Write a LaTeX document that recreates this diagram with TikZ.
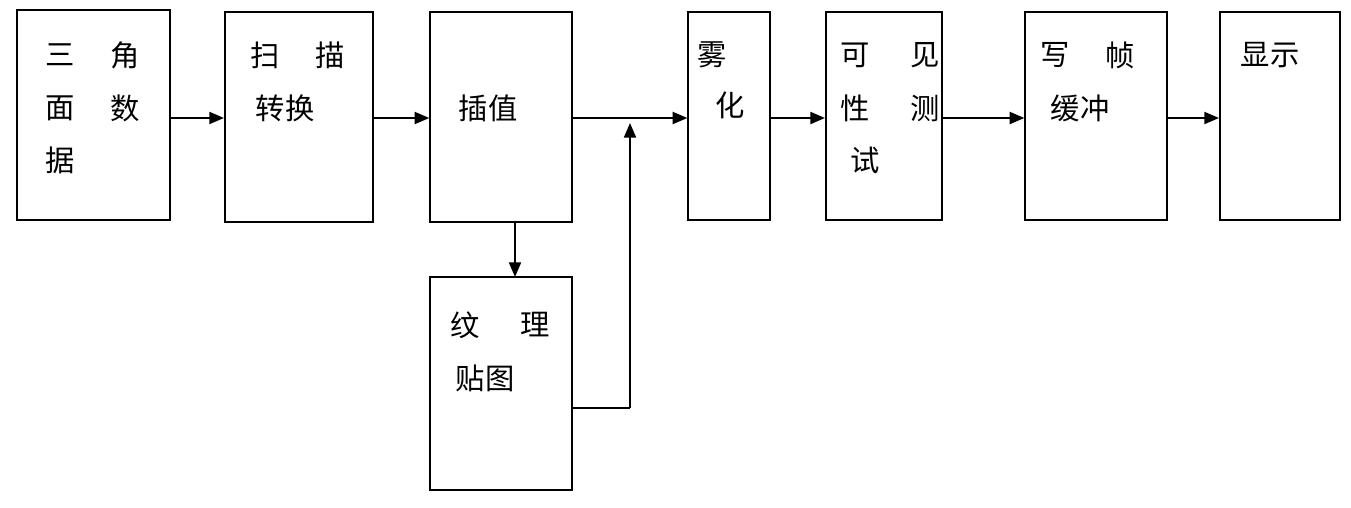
\documentclass[tikz,border=0pt]{standalone}
\usepackage{fontspec}
\newfontfamily\cjk{Noto Sans CJK SC}
\usetikzlibrary{arrows.meta}
\begin{document}
\begin{tikzpicture}[x=0.75pt,y=-0.75pt,
  box/.style={draw,line width=1.5pt,inner sep=0pt},
  t/.style={font=\cjk\fontsize{22}{22}\selectfont,inner sep=0pt},
  ar/.style={line width=1.5pt,-{Triangle[length=11pt,width=9pt]}},
  ln/.style={line width=1.5pt}]
\useasboundingbox (0,0) rectangle (1351,507);
\node[box,minimum width=115pt,minimum height=157pt] (b1) at (93.5,115) {};
\node[box,minimum width=111pt,minimum height=157pt] (b2) at (299,117) {};
\node[box,minimum width=106pt,minimum height=157pt] (b3) at (501,117) {};
\node[box,minimum width=106pt,minimum height=160pt] (b4) at (501,383.5) {};
\node[box,minimum width=61pt,minimum height=156pt] (b5) at (729,116) {};
\node[box,minimum width=87pt,minimum height=156pt] (b6) at (884,116) {};
\node[box,minimum width=106pt,minimum height=156pt] (b7) at (1096,116) {};
\node[box,minimum width=90pt,minimum height=156pt] (b8) at (1280,116) {};
% texts
\node[t] at (60,55) {三}; \node[t] at (125,55) {角};
\node[t] at (60,108) {面}; \node[t] at (125,108) {数};
\node[t] at (60,160) {据};
\node[t] at (265,55) {扫}; \node[t] at (330,55) {描};
\node[t] at (285,108) {转换};
\node[t] at (488,108) {插值};
\node[t] at (465,325) {纹}; \node[t] at (535,325) {理};
\node[t] at (485,378) {贴图};
\node[t] at (712,55) {雾}; \node[t] at (730,105) {化};
\node[t] at (855,55) {可}; \node[t] at (925,55) {见};
\node[t] at (855,108) {性}; \node[t] at (925,108) {测};
\node[t] at (865,160) {试};
\node[t] at (1055,55) {写}; \node[t] at (1120,55) {帧};
\node[t] at (1080,108) {缓冲};
\node[t] at (1270,55) {显示};
% connectors
\coordinate (j) at (630,118);
\coordinate (k) at (630,408);
\draw[ar] (b1.east |- 0,118) -- (b2.west |- 0,118);
\draw[ar] (b2.east |- 0,118) -- (b3.west |- 0,118);
\draw[ln] (b3.east |- 0,118) -- (j);
\draw[ar] (j) -- (b5.west |- 0,118);
\draw[ar] (b5.east |- 0,118) -- (b6.west |- 0,118);
\draw[ar] (b6.east |- 0,118) -- (b7.west |- 0,118);
\draw[ar] (b7.east |- 0,118) -- (b8.west |- 0,118);
\draw[ar] (515,222) -- (515,277);
\draw[ln] (b4.east |- 0,408) -- (k);
\draw[ar] (k) -- (630,123);
\end{tikzpicture}
\end{document}
